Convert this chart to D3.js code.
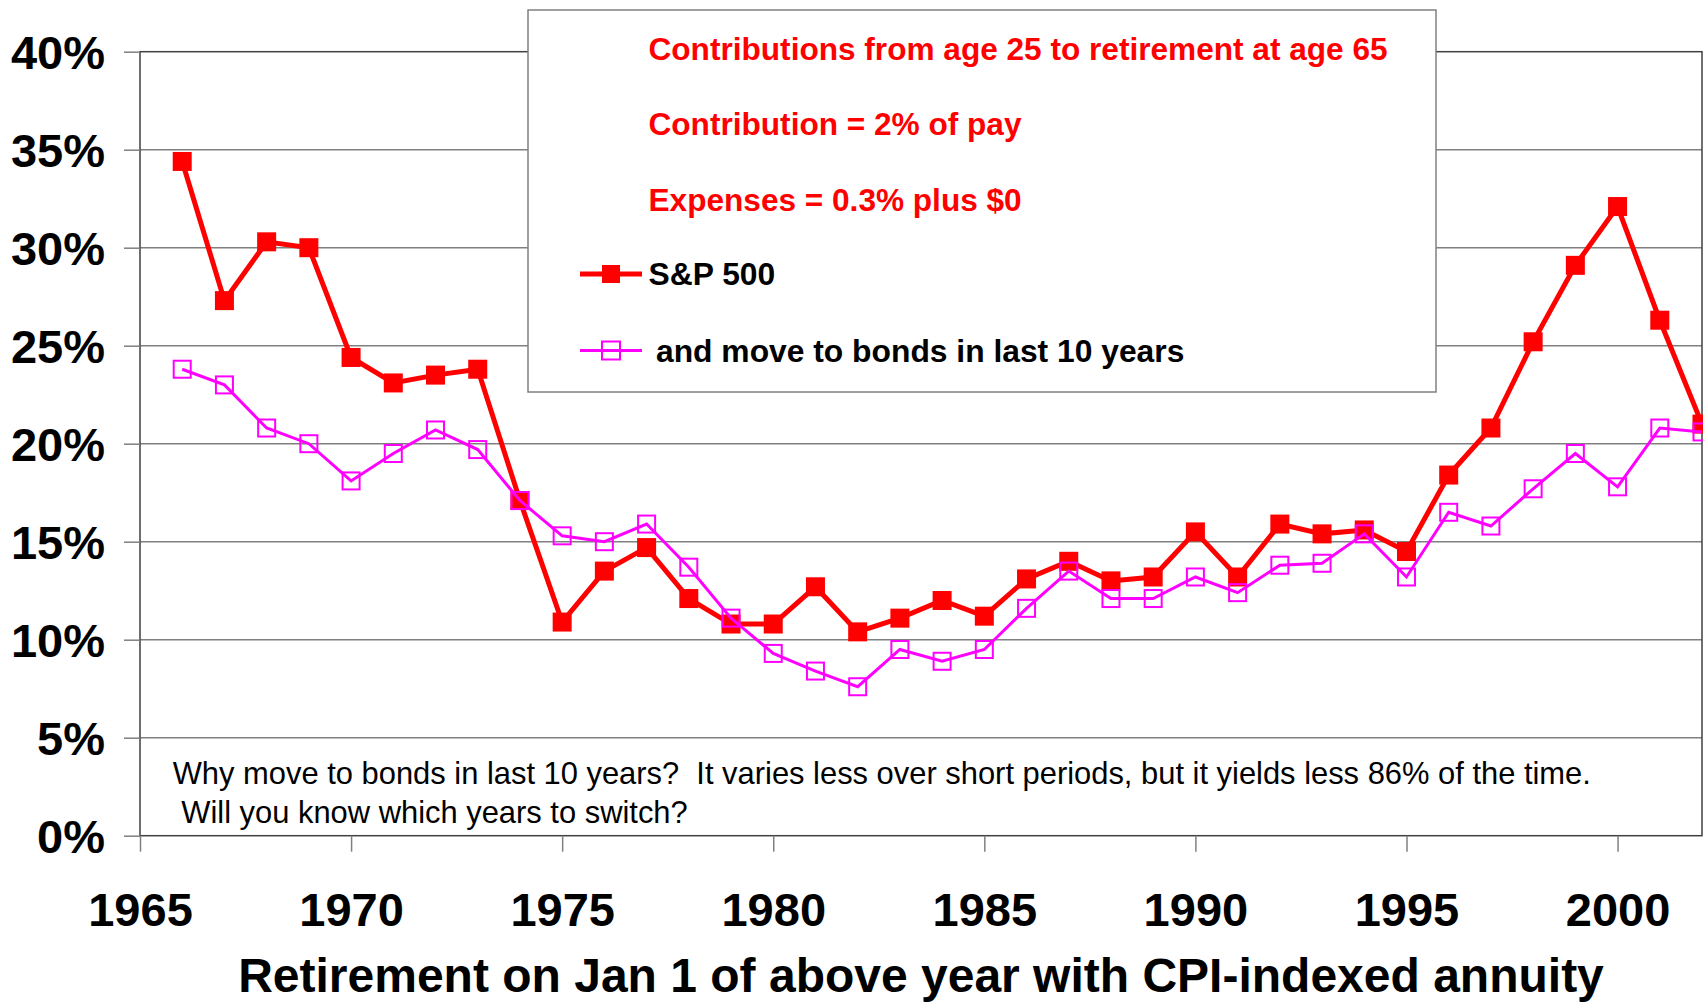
<!DOCTYPE html>
<html>
<head>
<meta charset="utf-8">
<script src="https://cdn.jsdelivr.net/npm/d3@7"></script>
<style>
  body { margin: 0; background: #fff; }
  svg { display: block; font-family: "Liberation Sans", Arial, sans-serif; }
  text { white-space: pre; }
</style>
</head>
<body>
<script>
// values (percent)
const years = [1966, 1967, 1968, 1969, 1970, 1971, 1972, 1973, 1974, 1975,
               1976, 1977, 1978, 1979, 1980, 1981, 1982, 1983, 1984, 1985,
               1986, 1987, 1988, 1989, 1990, 1991, 1992, 1993, 1994, 1995,
               1996, 1997, 1998, 1999, 2000, 2001, 2002];
const sp500 = [34.4, 27.3, 30.3, 30.0, 24.4, 23.1, 23.5, 23.8, 17.1, 10.9,
               13.5, 14.7, 12.1, 10.8, 10.8, 12.7, 10.4, 11.1, 12.0, 11.2,
               13.1, 14.0, 13.0, 13.2, 15.5, 13.2, 15.9, 15.4, 15.6, 14.5,
               18.4, 20.8, 25.2, 29.1, 32.1, 26.3, 21.0];
const bonds = [23.8, 23.0, 20.8, 20.0, 18.1, 19.5, 20.7, 19.7, 17.1, 15.3,
               15.0, 15.9, 13.7, 11.1, 9.3, 8.4, 7.6, 9.5, 8.9, 9.5,
               11.6, 13.5, 12.1, 12.1, 13.2, 12.4, 13.8, 13.9, 15.4, 13.2,
               16.5, 15.8, 17.7, 19.5, 17.8, 20.8, 20.6];
const yTicks = [0, 5, 10, 15, 20, 25, 30, 35, 40];
const xTicks = [1965, 1970, 1975, 1980, 1985, 1990, 1995, 2000];
const notes = ["Contributions from age 25 to retirement at age 65",
               "Contribution = 2% of pay",
               "Expenses = 0.3% plus $0"];
const seriesNames = ["S&P 500", "and move to bonds in last 10 years"];
const footNotes = ["Why move to bonds in last 10 years?  It varies less over short periods, but it yields less 86% of the time.",
                   " Will you know which years to switch?"];
const xTitle = "Retirement on Jan 1 of above year with CPI-indexed annuity";

const width = 1703, height = 1003;
const plotL = 140, plotR = 1702, plotT = 51.7, plotB = 835.7;
const red = "#ff0000", magenta = "#ff00ff", grid = "#808080", frame = "#404040";

const svg = d3.select("body").append("svg")
              .attr("width", width)
              .attr("height", height);

const x = d3.scaleLinear().domain([1965, 2002]).range([plotL, plotR]);
const y = d3.scaleLinear().domain([0, 40]).range([plotB, plotT]);

// gridlines
svg.append("g")
   .selectAll("line")
   .data(yTicks.filter(d => d > 0 && d < 40))
   .enter()
   .append("line")
   .attr("x1", plotL).attr("x2", plotR)
   .attr("y1", d => y(d)).attr("y2", d => y(d))
   .attr("stroke", grid)
   .attr("stroke-width", 1.5);

// plot frame
svg.append("rect")
   .attr("x", plotL).attr("y", plotT)
   .attr("width", plotR - plotL).attr("height", plotB - plotT)
   .attr("fill", "none")
   .attr("stroke", frame)
   .attr("stroke-width", 1.5);

// axes
const yAxis = d3.axisLeft(y).tickValues(yTicks).tickSize(16).tickFormat(d => d + "%");
const gy = svg.append("g").attr("transform", `translate(${plotL},0)`).call(yAxis);
gy.select(".domain").remove();
gy.selectAll(".tick line").attr("stroke", grid).attr("stroke-width", 1.5);
gy.selectAll(".tick text")
  .attr("x", -35).attr("dy", 17)
  .attr("fill", "#000")
  .style("font-size", "47px").style("font-weight", "bold")
  .style("font-family", "'Liberation Sans', Arial, sans-serif");

const xAxis = d3.axisBottom(x).tickValues(xTicks).tickSize(16).tickFormat(d3.format("d"));
const gx = svg.append("g").attr("transform", `translate(0,${plotB})`).call(xAxis);
gx.select(".domain").remove();
gx.selectAll(".tick line").attr("stroke", grid).attr("stroke-width", 1.5);
gx.selectAll(".tick text")
  .attr("y", 90).attr("dy", 0)
  .attr("fill", "#000")
  .style("font-size", "47px").style("font-weight", "bold")
  .style("font-family", "'Liberation Sans', Arial, sans-serif");

svg.append("text")
   .attr("x", (plotL + plotR) / 2).attr("y", 992)
   .attr("text-anchor", "middle")
   .style("font-size", "48px").style("font-weight", "bold")
   .text(xTitle);

// legend box
const lg = svg.append("g");
lg.append("rect")
  .attr("x", 528).attr("y", 10)
  .attr("width", 908).attr("height", 382)
  .attr("fill", "#fff")
  .attr("stroke", grid)
  .attr("stroke-width", 1.5);

lg.selectAll("text.note")
  .data(notes)
  .enter()
  .append("text")
  .attr("class", "note")
  .attr("x", 648.5)
  .attr("y", (d, i) => 60 + i * 75.3)
  .attr("fill", red)
  .style("font-size", "31.6px").style("font-weight", "bold")
  .text(d => d);

const legendRows = [
  {name: seriesNames[0], color: red, filled: true, lw: 5, tx: 648.5},
  {name: seriesNames[1], color: magenta, filled: false, lw: 3, tx: 656}
];
legendRows.forEach((r, i) => {
  const base = 285 + i * 76.5;
  const my = base - 11;
  lg.append("line")
    .attr("x1", 580).attr("x2", 642)
    .attr("y1", my).attr("y2", my)
    .attr("stroke", r.color).attr("stroke-width", r.lw);
  lg.append("rect")
    .attr("x", 611 - 9).attr("y", my - 9)
    .attr("width", 18).attr("height", 18)
    .attr("fill", r.filled ? r.color : "none")
    .attr("stroke", r.filled ? "none" : r.color)
    .attr("stroke-width", 2);
  lg.append("text")
    .attr("x", r.tx).attr("y", base)
    .attr("fill", "#000")
    .style("font-size", "31.8px").style("font-weight", "bold")
    .text(r.name);
});

// footnote
svg.selectAll("text.foot")
   .data(footNotes)
   .enter()
   .append("text")
   .attr("class", "foot")
   .attr("x", 172.7)
   .attr("y", (d, i) => 784 + i * 39.3)
   .attr("fill", "#000")
   .style("font-size", "30.9px")
   .text(d => d);

// series
const line = d3.line().x(d => x(d[0])).y(d => y(d[1]));
const spData = years.map((yr, i) => [yr, sp500[i]]);
const bdData = years.map((yr, i) => [yr, bonds[i]]);

svg.append("path")
   .attr("d", line(spData))
   .attr("fill", "none")
   .attr("stroke", red)
   .attr("stroke-width", 5)
   .attr("stroke-linejoin", "miter");
svg.append("g")
   .selectAll("rect")
   .data(spData)
   .enter()
   .append("rect")
   .attr("x", d => x(d[0]) - 9.5)
   .attr("y", d => y(d[1]) - 9.5)
   .attr("width", 19).attr("height", 19)
   .attr("fill", red);

svg.append("path")
   .attr("d", line(bdData))
   .attr("fill", "none")
   .attr("stroke", magenta)
   .attr("stroke-width", 3);
svg.append("g")
   .selectAll("rect")
   .data(bdData)
   .enter()
   .append("rect")
   .attr("x", d => x(d[0]) - 8.5)
   .attr("y", d => y(d[1]) - 8.5)
   .attr("width", 17).attr("height", 17)
   .attr("fill", "none")
   .attr("stroke", magenta)
   .attr("stroke-width", 2);
</script>
</body>
</html>
